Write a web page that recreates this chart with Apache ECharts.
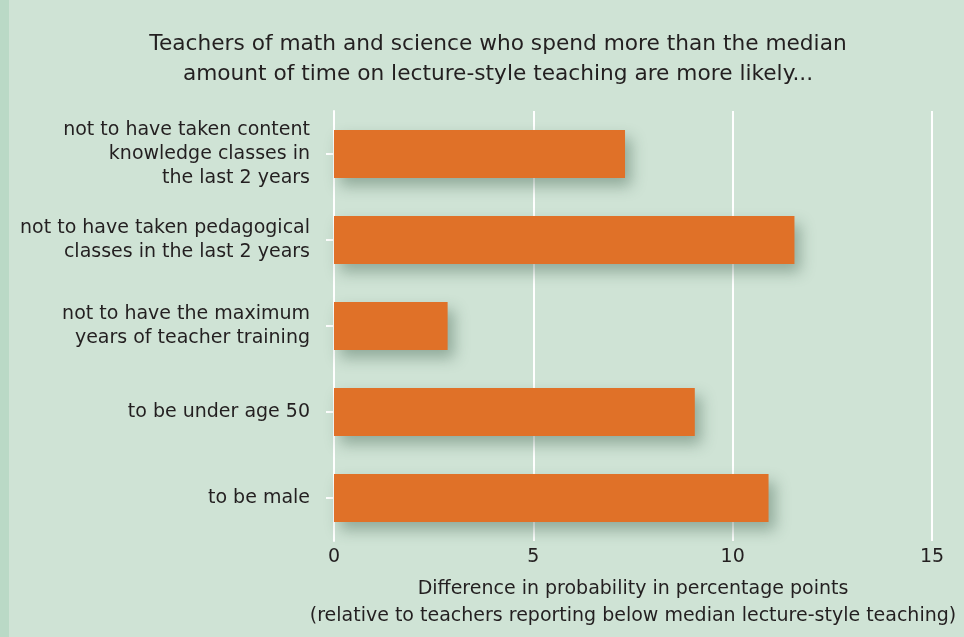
<!DOCTYPE html>
<html>
<head>
<meta charset="utf-8">
<script src="https://cdn.jsdelivr.net/npm/echarts@6/dist/echarts.min.js"></script>
<style>
  html, body { margin: 0; padding: 0; background: #cfe3d5; }
  #chart { width: 964px; height: 637px; }
</style>
</head>
<body>
<div id="chart"></div>
<script>
var categories = [
  "not to have taken content\nknowledge classes in\nthe last 2 years",
  "not to have taken pedagogical\nclasses in the last 2 years",
  "not to have the maximum\nyears of teacher training",
  "to be under age 50",
  "to be male"
];
var values = [7.3, 11.55, 2.85, 9.05, 10.9];
var tickValues = [0, 5, 10, 15];

var font = "'DejaVu Sans', sans-serif";
var chart = echarts.init(document.getElementById("chart"));

chart.setOption({
  backgroundColor: "#cfe3d5",
  animation: false,
  textStyle: { fontFamily: font, color: "#231f20" },
  title: {
    text: "Teachers of math and science who spend more than the median\namount of time on lecture-style teaching are more likely...",
    left: 493,
    top: 24,
    textAlign: "center",
    textStyle: { fontSize: 21.7, fontWeight: "normal", lineHeight: 30, color: "#231f20", fontFamily: font }
  },
  graphic: [
    { type: "rect", left: 0, top: 0, shape: { width: 9, height: 637 }, style: { fill: "#bad9c6" } }
  ],
  grid: { left: 334, right: 32, top: 111, bottom: 96, outerBoundsMode: "none" },
  xAxis: {
    type: "value",
    min: 0,
    max: 15,
    interval: 5,
    axisLine: { show: false },
    axisTick: { show: false },
    splitLine: { show: true, lineStyle: { color: "#ffffff", width: 2 } },
    axisLabel: {
      margin: 7,
      fontSize: 19,
      color: "#231f20",
      customValues: tickValues
    },
    name: "Difference in probability in percentage points\n(relative to teachers reporting below median lecture-style teaching)",
    nameLocation: "middle",
    nameGap: 35,
    nameTextStyle: { fontSize: 19, lineHeight: 27, verticalAlign: "top", color: "#231f20", fontFamily: font }
  },
  yAxis: {
    type: "category",
    inverse: true,
    data: categories,
    axisLine: { show: true, lineStyle: { color: "#ffffff", width: 2 } },
    axisTick: { show: true, length: 8, alignWithLabel: true, lineStyle: { color: "#ffffff", width: 2 } },
    axisLabel: {
      margin: 24,
      fontSize: 19,
      lineHeight: 24,
      color: "#231f20",
      align: "right"
    }
  },
  series: [{
    type: "bar",
    data: values,
    barCategoryGap: "44%",
    itemStyle: {
      color: "#e07128",
      shadowColor: "rgba(50, 85, 65, 0.4)",
      shadowBlur: 14,
      shadowOffsetX: 6,
      shadowOffsetY: 8
    }
  }]
});
</script>
</body>
</html>
